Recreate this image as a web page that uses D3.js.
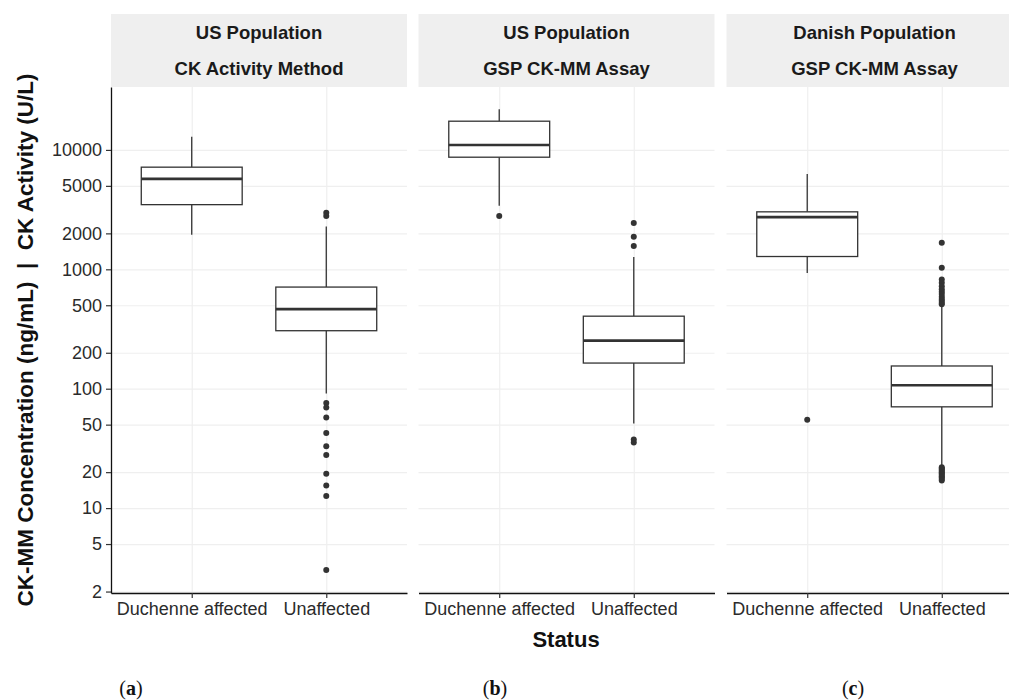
<!DOCTYPE html>
<html>
<head>
<meta charset="utf-8">
<script src="https://cdn.jsdelivr.net/npm/d3@7"></script>
<style>
  body { margin: 0; background: #fff; }
  svg { display: block; font-family: 'Liberation Sans', Arial, sans-serif; }
  .tick text { fill: #2b2b2b; font-size: 18px; }
  .grid line { stroke: #efefef; stroke-width: 1.2; }
  .grid .domain { display: none; }
</style>
</head>
<body>
<script>
  // facet labels and categories
  const panelTop = ['US Population', 'US Population', 'Danish Population'];
  const panelBottom = ['CK Activity Method', 'GSP CK-MM Assay', 'GSP CK-MM Assay'];
  const panelTags = ['a', 'b', 'c'];
  const categories = ['Duchenne affected', 'Unaffected'];
  const yTicks = [2, 5, 10, 20, 50, 100, 200, 500, 1000, 2000, 5000, 10000];

  // box stats per panel: [lower whisker, q1, median, q3, upper whisker]
  const dmdStats = [
    [1945, 3480, 5720, 7170, 12900],
    [3400, 8690, 11000, 17400, 21900],
    [930, 1280, 2735, 3030, 6300]
  ];
  const unaffStats = [
    [91, 306, 464, 710, 2280],
    [51, 164, 253, 405, 1265],
    [23, 70.5, 107, 155, 500]
  ];
  const dmdOutliers = [[], [2790], [55]];
  const unaffOutliers = [
    [2970, 2800, 76, 69.6, 57.4, 42.6, 33, 27.9, 19.4, 15.5, 12.6, 3.03],
    [2440, 1870, 1570, 37.5, 35.5],
    [1670, 1033, 820, 770, 720, 680, 650, 620, 590, 565, 545, 525, 510,
      22, 21.5, 21, 20.5, 20, 19.5, 19, 18.5, 18, 17.5, 17]
  ];

  const w = 1009;
  const h = 700;
  const panelX = [111, 418.5, 726.5];
  const panelW = 296;
  const stripTop = 14;
  const plotTop = 87;
  const plotBottom = 593;

  const svg = d3.select('body').append('svg')
    .attr('width', w)
    .attr('height', h);

  const yScale = d3.scaleLog()
    .domain([1.945, 33650])
    .range([plotBottom, plotTop]);

  panelX.forEach(function(x0, p) {
    const xScale = d3.scalePoint()
      .domain(categories)
      .range([x0, x0 + panelW])
      .padding(0.6);
    const boxW = xScale.step() * 0.75;

    // strip
    svg.append('rect')
      .attr('x', x0).attr('y', stripTop)
      .attr('width', panelW).attr('height', plotTop - stripTop)
      .attr('fill', '#efefef');
    svg.append('text')
      .attr('x', x0 + panelW / 2).attr('y', 39)
      .attr('text-anchor', 'middle')
      .attr('font-size', 18.5).attr('font-weight', 'bold').attr('fill', '#1a1a1a')
      .text(panelTop[p]);
    svg.append('text')
      .attr('x', x0 + panelW / 2).attr('y', 75)
      .attr('text-anchor', 'middle')
      .attr('font-size', 18.5).attr('font-weight', 'bold').attr('fill', '#1a1a1a')
      .text(panelBottom[p]);

    // grid
    svg.append('g')
      .attr('class', 'grid')
      .attr('transform', 'translate(' + x0 + ',0)')
      .call(d3.axisLeft(yScale).tickValues(yTicks).tickSize(-panelW).tickFormat(''));
    svg.append('g')
      .attr('class', 'grid')
      .attr('transform', 'translate(0,' + plotBottom + ')')
      .call(d3.axisBottom(xScale).tickSize(-(plotBottom - plotTop)).tickFormat(''));

    // boxes
    const groups = [
      { cat: categories[0], s: dmdStats[p], out: dmdOutliers[p] },
      { cat: categories[1], s: unaffStats[p], out: unaffOutliers[p] }
    ];
    groups.forEach(function(g) {
      const cx = xScale(g.cat);
      const s = g.s;
      const box = svg.append('g');
      box.append('line')
        .attr('x1', cx).attr('x2', cx)
        .attr('y1', yScale(s[4])).attr('y2', yScale(s[3]))
        .attr('stroke', '#333').attr('stroke-width', 1.3);
      box.append('line')
        .attr('x1', cx).attr('x2', cx)
        .attr('y1', yScale(s[1])).attr('y2', yScale(s[0]))
        .attr('stroke', '#333').attr('stroke-width', 1.3);
      box.append('rect')
        .attr('x', cx - boxW / 2).attr('y', yScale(s[3]))
        .attr('width', boxW).attr('height', yScale(s[1]) - yScale(s[3]))
        .attr('fill', '#fff').attr('stroke', '#333').attr('stroke-width', 1.3);
      box.append('line')
        .attr('x1', cx - boxW / 2).attr('x2', cx + boxW / 2)
        .attr('y1', yScale(s[2])).attr('y2', yScale(s[2]))
        .attr('stroke', '#333').attr('stroke-width', 2.6);
      box.selectAll('circle')
        .data(g.out)
        .enter()
        .append('circle')
        .attr('cx', cx)
        .attr('cy', d => yScale(d))
        .attr('r', 3)
        .attr('fill', '#333');
    });

    // bottom axis
    svg.append('g')
      .attr('transform', 'translate(0,' + plotBottom + ')')
      .call(d3.axisBottom(xScale).tickSize(5).tickPadding(4).tickSizeOuter(0))
      .call(g => g.select('.domain').attr('stroke', '#111').attr('stroke-width', 1.3))
      .call(g => g.selectAll('.tick line').attr('stroke', '#333').attr('stroke-width', 1.2));

    // panel tag
    const tag = svg.append('text')
      .attr('x', [131, 495, 853][p]).attr('y', 695)
      .attr('text-anchor', 'middle')
      .attr('font-family', "'Liberation Serif', 'DejaVu Serif', serif")
      .attr('font-size', 20).attr('fill', '#111');
    tag.append('tspan').text('(');
    tag.append('tspan').attr('font-weight', 'bold').text(panelTags[p]);
    tag.append('tspan').text(')');
  });

  // left axis on first panel only
  svg.append('g')
    .attr('transform', 'translate(' + panelX[0] + ',0)')
    .call(d3.axisLeft(yScale).tickValues(yTicks).tickFormat(d3.format('d'))
      .tickSize(5).tickPadding(4).tickSizeOuter(0))
    .call(g => g.select('.domain').attr('stroke', '#111').attr('stroke-width', 1.3))
    .call(g => g.selectAll('.tick line').attr('stroke', '#333').attr('stroke-width', 1.2));

  // axis titles
  svg.append('text')
    .attr('x', 566).attr('y', 647)
    .attr('text-anchor', 'middle')
    .attr('font-size', 22).attr('font-weight', 'bold').attr('fill', '#111')
    .text('Status');
  svg.append('text')
    .attr('transform', 'translate(33,' + (plotTop + plotBottom) / 2 + ') rotate(-90)')
    .attr('text-anchor', 'middle')
    .attr('font-size', 22.5).attr('font-weight', 'bold').attr('fill', '#111')
    .attr('xml:space', 'preserve')
    .style('white-space', 'pre')
    .text('CK-MM Concentration (ng/mL)  |  CK Activity (U/L)');
</script>
</body>
</html>
